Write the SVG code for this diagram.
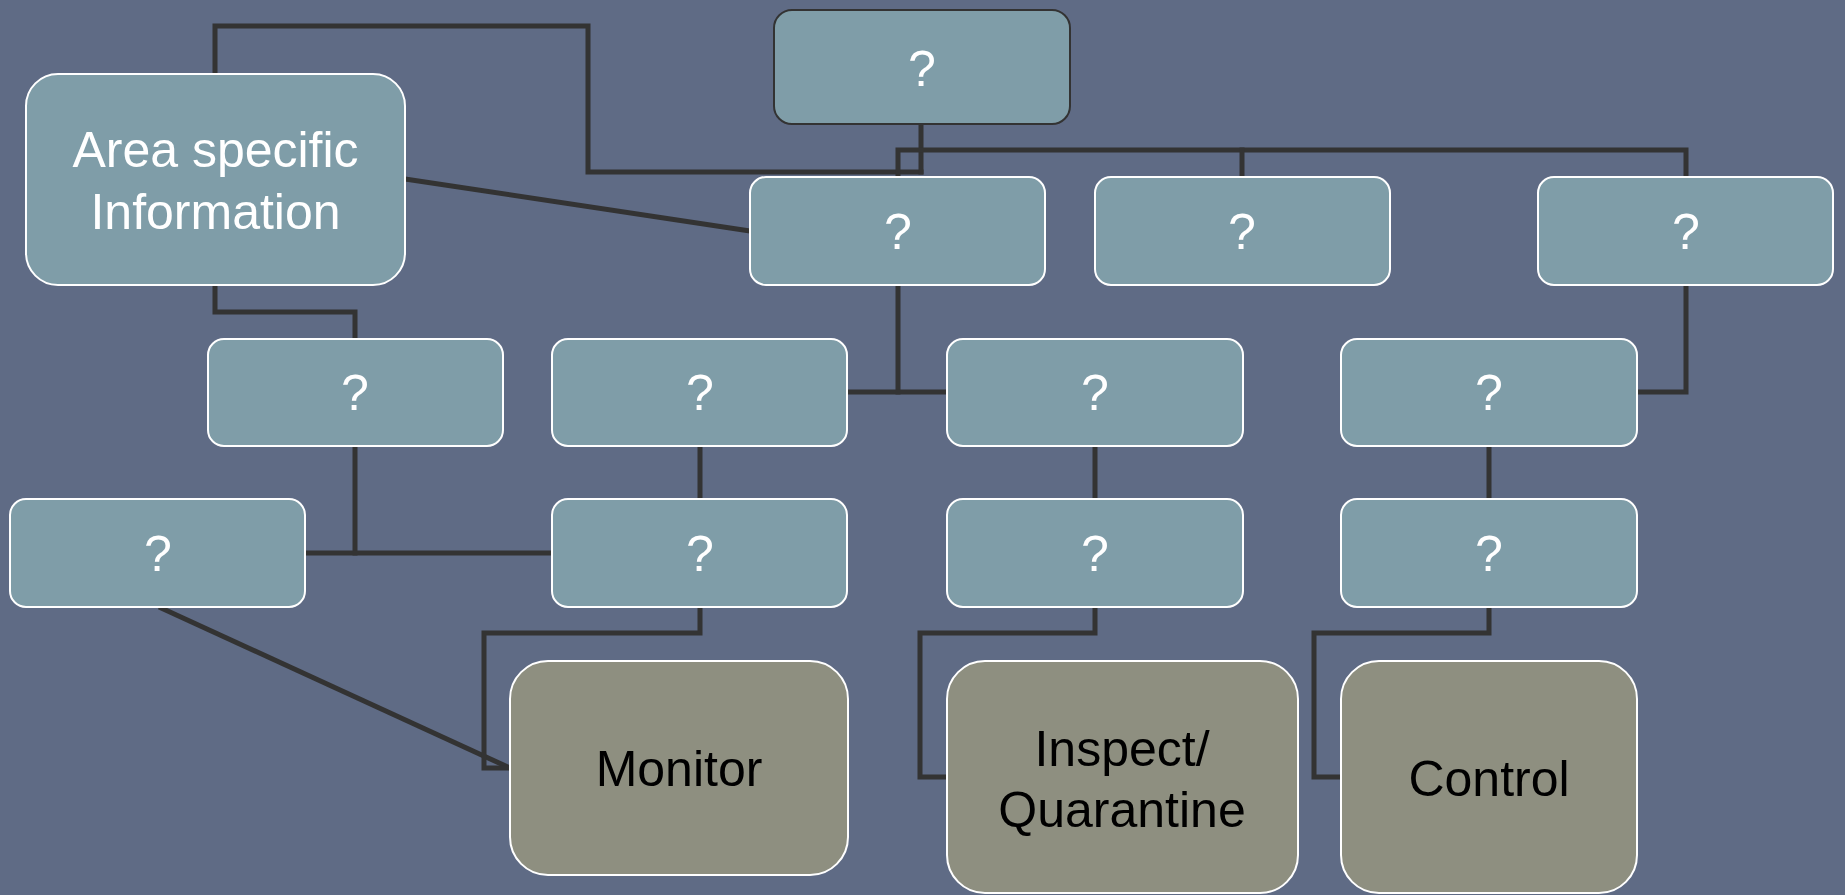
<svg xmlns="http://www.w3.org/2000/svg" width="1845" height="895" viewBox="0 0 1845 895">
<style>
.bg{fill:#5F6B85}
.n{fill:#7F9DA8;stroke:#FFFFFF;stroke-width:2}
.top{fill:#7F9DA8;stroke:#333333;stroke-width:2}
.g{fill:#8E8F80;stroke:#FFFFFF;stroke-width:2}
.c{fill:none;stroke:#333333;stroke-width:5;stroke-linejoin:miter;stroke-linecap:square}
.t{font-family:"Liberation Sans",Arial,sans-serif;font-size:50px;fill:#FFFFFF;text-anchor:middle}
.tb{font-family:"Liberation Sans",Arial,sans-serif;font-size:50px;fill:#000000;text-anchor:middle}
</style>
<rect class="bg" x="0" y="0" width="1845" height="895"/>
<g id="connectors">
<polyline class="c" points="215,74 215,26 588,26 588,172 921,172"/>
<polyline class="c" points="921,124 921,172"/>
<polyline class="c" points="898,177 898,150 1686,150 1686,177"/>
<polyline class="c" points="1242,150 1242,177"/>
<line class="c" x1="405" y1="179" x2="750" y2="231" style="stroke-linecap:butt"/>
<polyline class="c" points="215,285 215,312 355,312 355,339"/>
<polyline class="c" points="898,285 898,392"/>
<polyline class="c" points="847,392 947,392"/>
<polyline class="c" points="1686,285 1686,392 1637,392"/>
<polyline class="c" points="355,446 355,553"/>
<polyline class="c" points="305,553 552,553"/>
<polyline class="c" points="700,446 700,499"/>
<polyline class="c" points="1095,446 1095,499"/>
<polyline class="c" points="1489,446 1489,499"/>
<line class="c" x1="159" y1="607" x2="510" y2="768" style="stroke-linecap:butt"/>
<polyline class="c" points="700,607 700,633 484,633 484,768 510,768"/>
<polyline class="c" points="1095,607 1095,633 920,633 920,777 947,777"/>
<polyline class="c" points="1489,607 1489,633 1314,633 1314,777 1341,777"/>
</g>
<g id="top"><rect class="top" x="774" y="10" width="296" height="114" rx="18"/><text class="t" x="922" y="86">?</text></g>
<g id="area"><rect class="n" x="26" y="74" width="379" height="211" rx="32"/><text class="t" x="215.5" y="167">Area specific</text><text class="t" x="215.5" y="229">Information</text></g>
<g id="r2a"><rect class="n" x="750" y="177" width="295" height="108" rx="16"/><text class="t" x="898" y="249">?</text></g>
<g id="r2b"><rect class="n" x="1095" y="177" width="295" height="108" rx="16"/><text class="t" x="1242" y="249">?</text></g>
<g id="r2c"><rect class="n" x="1538" y="177" width="295" height="108" rx="16"/><text class="t" x="1686" y="249">?</text></g>
<g id="r3d"><rect class="n" x="208" y="339" width="295" height="107" rx="16"/><text class="t" x="355" y="410">?</text></g>
<g id="r3e"><rect class="n" x="552" y="339" width="295" height="107" rx="16"/><text class="t" x="700" y="410">?</text></g>
<g id="r3f"><rect class="n" x="947" y="339" width="296" height="107" rx="16"/><text class="t" x="1095" y="410">?</text></g>
<g id="r3g"><rect class="n" x="1341" y="339" width="296" height="107" rx="16"/><text class="t" x="1489" y="410">?</text></g>
<g id="r4h"><rect class="n" x="10" y="499" width="295" height="108" rx="16"/><text class="t" x="158" y="571">?</text></g>
<g id="r4i"><rect class="n" x="552" y="499" width="295" height="108" rx="16"/><text class="t" x="700" y="571">?</text></g>
<g id="r4j"><rect class="n" x="947" y="499" width="296" height="108" rx="16"/><text class="t" x="1095" y="571">?</text></g>
<g id="r4k"><rect class="n" x="1341" y="499" width="296" height="108" rx="16"/><text class="t" x="1489" y="571">?</text></g>
<g id="monitor"><rect class="g" x="510" y="661" width="338" height="214" rx="38"/><text class="tb" x="679" y="786">Monitor</text></g>
<g id="inspect"><rect class="g" x="947" y="661" width="351" height="232" rx="38"/><text class="tb" x="1122" y="766">Inspect/</text><text class="tb" x="1122" y="827">Quarantine</text></g>
<g id="control"><rect class="g" x="1341" y="661" width="296" height="232" rx="38"/><text class="tb" x="1489" y="796">Control</text></g>
</svg>
